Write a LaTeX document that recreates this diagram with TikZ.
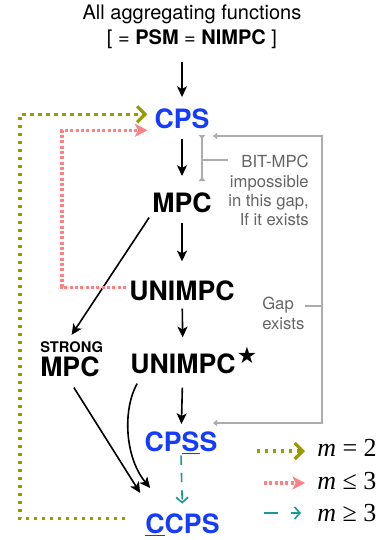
\documentclass[tikz,border=0pt]{standalone}
\usepackage{fontspec}
\setmainfont{TeX Gyre Heros}
\newfontfamily\symfont{DejaVu Sans}
\newfontfamily\seriffont{Liberation Serif}
\usetikzlibrary{arrows.meta}
\definecolor{cpsblue}{RGB}{20,60,250}
\definecolor{olivec}{RGB}{153,153,0}
\definecolor{pinkc}{RGB}{255,128,128}
\definecolor{tealc}{RGB}{26,153,153}
\definecolor{grayline}{RGB}{172,172,172}
\definecolor{graytext}{RGB}{100,100,100}
\begin{document}
\begin{tikzpicture}[x=0.75pt,y=-0.75pt,
  big/.style={font=\fontsize{20}{22}\selectfont\bfseries, inner sep=0pt, anchor=base},
  bluebig/.style={big, text=cpsblue},
  main/.style={-{Stealth[length=8pt,width=7.5pt,inset=2pt]}, line width=1.2pt},
  grayln/.style={draw=grayline, line width=1.1pt},
  graylbl/.style={font=\fontsize{12.5}{14.5}\selectfont, text=graytext, inner sep=0pt},
  olivedot/.style={draw=olivec, line width=2.3pt, dash pattern=on 2.3pt off 3.7pt},
  olivetip/.style={-{Straight Barb[length=6pt,width=12pt,line width=2.4pt]}},
  pinkdot/.style={draw=pinkc, line width=2.3pt, dash pattern=on 2.3pt off 1.7pt},
  pinktip/.style={-{Stealth[length=9.5pt,width=10pt,inset=2.5pt,line width=0pt]}},
  tealdash/.style={draw=tealc, line width=1.2pt, dash pattern=on 7pt off 6pt},
  tealtip/.style={-{Straight Barb[length=4pt,width=9pt,line width=1.2pt]}},
  leg/.style={font=\fontsize{19.5}{21}\seriffont, inner sep=0pt, anchor=base west}
]
\useasboundingbox (0,0) rectangle (384,540);

% title
\node[font=\fontsize{15}{18.75}\selectfont, align=center, inner sep=0pt, anchor=north] (title) at (192,5)
  {All aggregating functions\\{[} = \textbf{PSM} = \textbf{NIMPC} ]};

% main nodes
\node[bluebig] (cps) at (182,128) {CPS};
\node[big] (mpc) at (182,212) {MPC};
\node[big] (unimpc) at (182,300) {UNIMPC};
\node[big] (unimpcs) at (183,373) {UNIMPC\rlap{\hspace{1pt}\raisebox{7.5pt}{\symfont\fontsize{17}{17}\selectfont ★}}};
\node[bluebig] (cpss) at (181,451) {CP\underline{S}S};
\node[bluebig] (ccps) at (182.5,533) {\underline{C}CPS};
\node[font=\fontsize{11}{12}\selectfont\bfseries, inner sep=0pt, anchor=base west] (strong) at (40,352) {STRONG};
\node[big, anchor=base west] (smpc) at (40,376) {MPC};

% main arrows
\draw[main, shorten <=9.75pt, shorten >=8.25pt] (title.south -| cps.north) -- (cps.north);
\draw[main, shorten <=7.5pt, shorten >=12pt] (cps) -- (mpc);
\draw[main, shorten <=7.5pt, shorten >=14pt] (mpc) -- (unimpc);
\draw[main, shorten <=6pt, shorten >=6.75pt] (unimpc) -- (unimpcs);
\draw[main, shorten <=10.5pt, shorten >=5.25pt] (unimpcs) -- (cpss);
\draw[main] ([shift={(-3,5)}]mpc.south west) -- ([shift={(0,-6)}]strong.north);
\draw[main] ([shift={(4,11)}]smpc.south) -- ([shift={(-5,-20)}]ccps.north west);
\draw[main] ([shift={(7,10)}]unimpcs.south west) .. controls +(-15,27) and +(-25,-30) .. ([shift={(5,-25)}]ccps.north west);

% teal dashed
\draw[tealdash, tealtip, shorten <=1pt, shorten >=7pt] (cpss.south) -- (ccps.north);

% olive dotted loop
\coordinate (oleft) at (20,300);
\draw[olivedot, olivetip] ([shift={(-20,-6)}]ccps.west) -| (oleft) |- ([shift={(-7,-4)}]cps.west);
% pink dotted loop
\coordinate (pleft) at (62,200);
\draw[pinkdot, pinktip] ([shift={(-3,-3)}]unimpc.west) -| (pleft) |- ([shift={(-7,12)}]cps.west);

% gray bracket
\coordinate (brA) at (213,136);
\coordinate (brC) at (322,300);
\coordinate (brB) at (213,423);
\draw[grayln, {Triangle[length=3pt,width=4.5pt]}-{Triangle[length=3pt,width=4.5pt]}] (brA) -| (brC) |- (brB);
\coordinate (vt) at (202,135);
\coordinate (vb) at (202,181);
\draw[grayln, {Triangle[reversed,length=3pt,width=5pt]}-{Triangle[reversed,length=3pt,width=5pt]}] (vt) -- (vb);

\node[graylbl, align=right, anchor=north east] (bit) at (309,155) {BIT-MPC\\impossible\\in this gap,\\If it exists};
\coordinate (vmid) at (202,160);
\draw[grayln] (vmid) -- (vmid -| bit.west);

\node[graylbl, align=left, anchor=north west] (gap) at (262,297) {Gap\\exists};
\coordinate (gapr) at (322,306);
\draw[grayln] (gapr) -- (gapr -| gap.east);

% legend
\node[leg] (m2) at (317,456) {\textit{m} = 2};
\node[leg] (m3a) at (317,489) {\textit{m} ≤ 3};
\node[leg] (m3b) at (317,521) {\textit{m} ≥ 3};
\coordinate (lg1) at (257,451);
\coordinate (lg2) at (264,483);
\coordinate (lg3) at (264,513);
\draw[olivedot, olivetip, shorten >=9pt] (lg1) -- (lg1 -| m2.west);
\draw[pinkdot, pinktip, shorten >=9pt] (lg2) -- (lg2 -| m3a.west);
\draw[tealdash, tealtip, dash pattern=on 10.5pt off 9.5pt, shorten >=12pt] (lg3) -- (lg3 -| m3b.west);
\end{tikzpicture}
\end{document}
